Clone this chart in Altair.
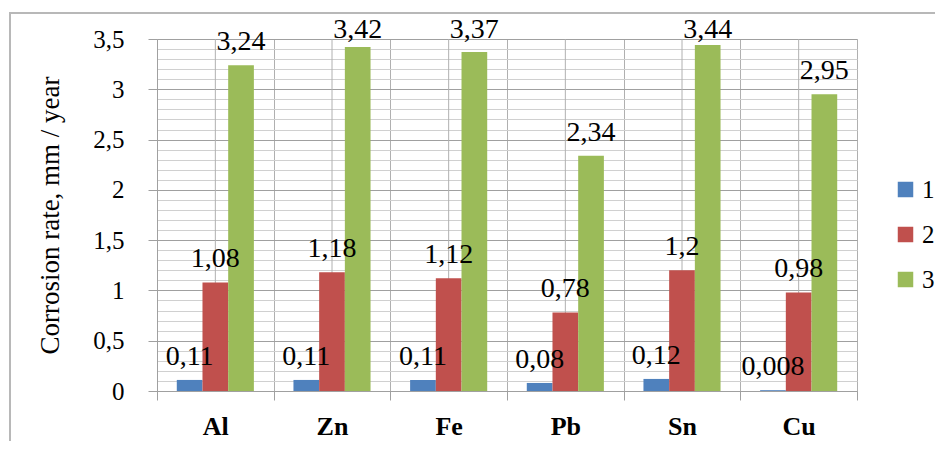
import altair as alt
import pandas as pd

categories = ["Al", "Zn", "Fe", "Pb", "Sn", "Cu"]
series_names = ["1", "2", "3"]
s1 = [0.11, 0.11, 0.11, 0.08, 0.12, 0.008]
s2 = [1.08, 1.18, 1.12, 0.78, 1.2, 0.98]
s3 = [3.24, 3.42, 3.37, 2.34, 3.44, 2.95]
colors = ["#4F81BD", "#C0504D", "#9BBB59"]
y_ticks = [0, 0.1, 0.2, 0.3, 0.4, 0.5, 0.6, 0.7, 0.8, 0.9, 1.0, 1.1, 1.2, 1.3,
           1.4, 1.5, 1.6, 1.7, 1.8, 1.9, 2.0, 2.1, 2.2, 2.3, 2.4, 2.5, 2.6, 2.7,
           2.8, 2.9, 3.0, 3.1, 3.2, 3.3, 3.4, 3.5]

rows = []
for sname, vals in zip(series_names, [s1, s2, s3]):
    for c, v in zip(categories, vals):
        rows.append({"cat": c, "series": sname, "value": v,
                     "label": str(v).replace(".", ",")})
df = pd.DataFrame(rows)
cats_df = pd.DataFrame({"cat": categories})

FONT = "Liberation Serif"
W, H = 700, 352

xscale = alt.Scale(domain=categories, paddingInner=0, paddingOuter=0)
offscale = alt.Scale(domain=series_names, paddingInner=0, paddingOuter=0.77)
yscale = alt.Scale(domain=[0, 3.5], nice=False)

major = "round(datum.value*10) % 5 == 0"
xaxis = alt.Axis(title=None, tickBand="extent", grid=True, gridColor="#b0b0b0",
                 tickColor="#a0a0a0", tickSize=9, domainColor="#a0a0a0",
                 labelAngle=0, labelFont=FONT, labelFontSize=26,
                 labelFontWeight="bold", labelColor="black", labelPadding=13)
yaxis = alt.Axis(title="Corrosion rate, mm / year", values=y_ticks,
                 titleFont=FONT, titleFontSize=27, titleFontWeight="normal",
                 titleColor="black", titlePadding=28,
                 labelFont=FONT, labelFontSize=25, labelColor="black",
                 labelPadding=24,
                 labelExpr=major + " ? replace(format(datum.value, '.1~f'), '.', ',') : ''",
                 grid=True,
                 gridColor={"condition": {"test": major, "value": "#a0a0a0"}, "value": "#d0d0d0"},
                 tickColor={"condition": {"test": major, "value": "#a0a0a0"}, "value": "transparent"},
                 tickSize=9, domainColor="#a0a0a0")

center_rules = alt.Chart(cats_df).mark_rule(color="#b0b0b0", strokeWidth=1).encode(
    x=alt.X("cat:N", scale=xscale, sort=categories, axis=xaxis),
    y=alt.Y(datum=0, scale=yscale, axis=yaxis),
    y2=alt.Y2(datum=3.5),
)

bars = alt.Chart(df).mark_bar().encode(
    x=alt.X("cat:N", scale=xscale, sort=categories, axis=xaxis),
    xOffset=alt.XOffset("series:N", scale=offscale, sort=series_names),
    y=alt.Y("value:Q", scale=yscale, axis=yaxis),
    color=alt.Color("series:N", scale=alt.Scale(domain=series_names, range=colors),
                    legend=alt.Legend(title=None, orient="none", legendX=736, legendY=138,
                                      padding=0,
                                      symbolType="square", symbolSize=240, symbolStrokeWidth=0,
                                      labelFont=FONT, labelFontSize=25, labelColor="black",
                                      rowPadding=19, labelOffset=4)),
)

labels = alt.Chart(df).transform_calculate(
    label_pos="min(datum.value + 0.15, 3.51)"
).mark_text(font=FONT, fontSize=28, color="black", align="center", baseline="alphabetic").encode(
    x=alt.X("cat:N", scale=xscale, sort=categories, axis=xaxis),
    xOffset=alt.XOffset("series:N", scale=offscale, sort=series_names),
    y=alt.Y("label_pos:Q", scale=yscale, axis=yaxis),
    text="label:N",
)

frame = alt.Chart(cats_df).mark_rect(fill=None, stroke="#b8b8b8", strokeWidth=1.5, clip=False).encode(
    x=alt.value(-147), x2=alt.value(820), y=alt.value(-26), y2=alt.value(460)
)

chart = alt.layer(frame, center_rules, bars, labels).properties(
    width=W, height=H,
    autosize=alt.AutoSizeParams(type="none"),
    padding={"left": 149, "top": 31, "right": 78, "bottom": 50},
).configure_view(stroke="#a0a0a0").configure(background="white")

chart.save("out.html", embed_options={"renderer": "svg", "actions": False})
